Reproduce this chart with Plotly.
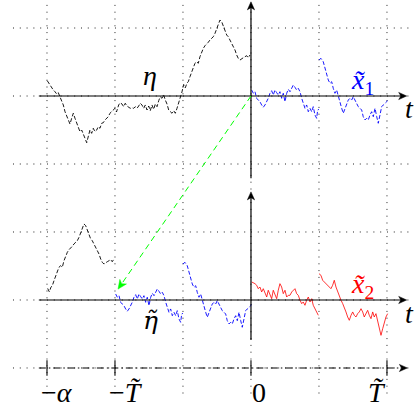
import plotly.graph_objects as go

# ---------------- data (grid units) ----------------
# eta: path on [-3, 0] (top panel, value relative to the upper t-axis)
eta_t = [-2.996, -2.966, -2.931, -2.907, -2.882, -2.857, -2.834, -2.809, -2.784, -2.760,
         -2.735, -2.710, -2.687, -2.662, -2.637, -2.613, -2.588, -2.563, -2.540, -2.515,
         -2.490, -2.466, -2.441, -2.416, -2.393, -2.368, -2.343, -2.319, -2.294, -2.269,
         -2.246, -2.221, -2.196, -2.172, -2.147, -2.122, -2.099, -2.074, -2.049, -2.025,
         -2.000, -1.978, -1.946, -1.922, -1.897, -1.872, -1.849, -1.824, -1.799, -1.775,
         -1.750, -1.725, -1.701, -1.676, -1.651, -1.628, -1.603, -1.578, -1.554, -1.529,
         -1.504, -1.481, -1.456, -1.431, -1.407, -1.382, -1.357, -1.334, -1.309, -1.284,
         -1.260, -1.235, -1.210, -1.187, -1.162, -1.137, -1.113, -1.088, -1.063, -1.040,
         -1.015, -0.990, -0.966, -0.941, -0.922, -0.897, -0.872, -0.849, -0.824, -0.799,
         -0.775, -0.750, -0.725, -0.701, -0.676, -0.651, -0.628, -0.603, -0.578, -0.554,
         -0.529, -0.504, -0.481, -0.456, -0.431, -0.407, -0.382, -0.357, -0.334, -0.309,
         -0.284, -0.260, -0.235, -0.210, -0.187, -0.162, -0.137, -0.113, -0.088, -0.063,
         -0.040, -0.015]
eta_v = [0.225, 0.176, 0.137, 0.088, 0.063, 0.029, 0.049, -0.010, -0.069, -0.132,
         -0.231, -0.304, -0.353, -0.412, -0.328, -0.254, -0.328, -0.401, -0.475, -0.525,
         -0.500, -0.574, -0.622, -0.687, -0.599, -0.500, -0.549, -0.475, -0.525, -0.500,
         -0.451, -0.475, -0.401, -0.393, -0.353, -0.328, -0.304, -0.254, -0.231, -0.206,
         -0.181, -0.235, -0.132, -0.099, -0.118, -0.157, -0.107, -0.147, -0.166, -0.181,
         -0.172, -0.181, -0.157, -0.181, -0.147, -0.107, -0.132, -0.181, -0.132, -0.206,
         -0.147, -0.216, -0.132, -0.196, -0.118, -0.157, -0.069, -0.010, -0.034, 0.015,
         -0.059, -0.118, -0.206, -0.231, -0.254, -0.216, -0.254, -0.181, -0.107, -0.034,
         0.060, 0.170, 0.120, 0.190, 0.210, 0.284, 0.357, 0.431, 0.481, 0.504,
         0.481, 0.578, 0.651, 0.701, 0.740, 0.760, 0.790, 0.824, 0.849, 0.872,
         0.922, 0.996, 1.044, 1.118, 1.093, 1.019, 0.946, 0.897, 0.872, 0.824,
         0.775, 0.725, 0.676, 0.603, 0.554, 0.529, 0.554, 0.563, 0.578, 0.593,
         0.563, 0.603]

# x~1 on [0, 1) and [1, 2]
x1a_t = [0.010, 0.034, 0.059, 0.084, 0.107, 0.132, 0.157, 0.181, 0.206, 0.231,
         0.254, 0.279, 0.304, 0.328, 0.353, 0.378, 0.401, 0.426, 0.451, 0.475,
         0.500, 0.525, 0.549, 0.574, 0.599, 0.622, 0.647, 0.672, 0.696, 0.721,
         0.746, 0.769, 0.794, 0.819, 0.843, 0.868, 0.893, 0.916, 0.941, 0.966,
         0.981, 1.000]
x1a_v = [0.088, 0.040, 0.063, -0.034, -0.059, -0.084, -0.132, -0.166, -0.132, -0.084,
         -0.034, 0.040, 0.078, 0.015, 0.088, 0.049, 0.015, 0.063, -0.034, 0.040,
         -0.084, 0.040, 0.099, 0.063, 0.128, 0.162, 0.128, 0.088, 0.113, 0.063,
         -0.034, -0.107, -0.181, -0.132, -0.231, -0.181, -0.231, -0.157, -0.279, -0.328,
         -0.206, -0.196]
x1b_t = [1.000, 1.029, 1.063, 1.088, 1.113, 1.137, 1.162, 1.187, 1.210, 1.235,
         1.260, 1.284, 1.309, 1.334, 1.357, 1.382, 1.407, 1.431, 1.456, 1.481,
         1.504, 1.529, 1.554, 1.578, 1.603, 1.628, 1.651, 1.676, 1.701, 1.725,
         1.750, 1.775, 1.799, 1.824, 1.849, 1.872, 1.897, 1.922, 1.946, 1.971,
         2.010]
x1b_v = [0.529, 0.554, 0.504, 0.407, 0.334, 0.235, 0.187, 0.210, 0.113, 0.040,
         0.088, -0.010, -0.107, -0.181, -0.254, -0.181, -0.107, -0.059, -0.034, -0.059,
         -0.010, -0.059, -0.132, -0.157, -0.181, -0.206, -0.304, -0.353, -0.328, -0.353,
         -0.279, -0.231, -0.304, -0.181, -0.304, -0.401, -0.279, -0.157, -0.132, -0.107,
         -0.069]

# x~2 on [0, 1) and [1, 2]
x2a_t = [0.010, 0.034, 0.059, 0.084, 0.107, 0.132, 0.157, 0.181, 0.206, 0.231,
         0.254, 0.279, 0.304, 0.328, 0.353, 0.378, 0.401, 0.426, 0.451, 0.475,
         0.500, 0.525, 0.549, 0.574, 0.599, 0.622, 0.647, 0.672, 0.696, 0.721,
         0.746, 0.769, 0.794, 0.819, 0.843, 0.868, 0.893, 0.916, 0.941, 0.966,
         0.990]
x2a_v = [0.265, 0.254, 0.240, 0.216, 0.166, 0.191, 0.118, 0.166, 0.093, 0.044,
         0.143, 0.093, 0.019, 0.143, 0.069, 0.019, 0.143, 0.240, 0.191, 0.093,
         0.143, 0.044, 0.069, 0.069, 0.118, 0.143, 0.166, 0.093, 0.069, -0.004,
         -0.054, -0.029, -0.078, -0.004, 0.044, -0.029, 0.019, -0.078, -0.128, -0.176,
         -0.225]
x2b_t = [1.000, 1.029, 1.054, 1.078, 1.103, 1.128, 1.151, 1.176, 1.201, 1.225,
         1.250, 1.275, 1.299, 1.324, 1.349, 1.372, 1.397, 1.422, 1.446, 1.471,
         1.496, 1.519, 1.544, 1.569, 1.593, 1.618, 1.643, 1.666, 1.691, 1.716,
         1.740, 1.765, 1.790, 1.813, 1.838, 1.863, 1.887, 1.912, 1.937, 1.960,
         1.985, 2.010]
x2b_v = [0.387, 0.363, 0.290, 0.265, 0.240, 0.216, 0.191, 0.166, 0.216, 0.290,
         0.191, 0.118, 0.069, -0.004, -0.054, -0.103, -0.176, -0.250, -0.299, -0.225,
         -0.176, -0.225, -0.250, -0.201, -0.176, -0.128, -0.176, -0.250, -0.201, -0.152,
         -0.225, -0.275, -0.176, -0.250, -0.201, -0.299, -0.397, -0.520, -0.422, -0.324,
         -0.250, -0.201]

tick_pos = [-3, -2, 0, 2]
tick_text = ["\u2212<i>\u03b1</i>", "\u2212<i>T\u0303</i>", "0", "<i>T\u0303</i>"]
grid_x = [-3, -2, -1, 0, 1, 2]
grid_y = [-1, 0, 1, 2, 3, 4]

# ---------------- geometry / style ----------------
TOP = 3.0          # level of upper t-axis
PX = 68.0          # pixels per unit
FONT = "Liberation Serif"
FS = 28

fig = go.Figure()
shapes = []
annotations = []

def seg(x0, y0, x1, y1, color="black", width=1.2, dash="solid"):
    shapes.append(dict(type="line", xref="x", yref="y", x0=x0, y0=y0, x1=x1, y1=y1,
                       line=dict(color=color, width=width, dash=dash), layer="above"))

def head(tx, ty, dx, dy, color="black", L=8.0, W=3.6, notch=2.2):
    n = (dx * dx + dy * dy) ** 0.5
    dx, dy = dx / n, dy / n
    nx, ny = -dy, dx
    l, w, c = L / PX, W / PX, (L - notch) / PX
    pts = [(tx, ty),
           (tx - l * dx + w * nx, ty - l * dy + w * ny),
           (tx - c * dx, ty - c * dy),
           (tx - l * dx - w * nx, ty - l * dy - w * ny)]
    path = "M " + " L ".join(f"{x:.4f},{y:.4f}" for x, y in pts) + " Z"
    shapes.append(dict(type="path", xref="x", yref="y", path=path,
                       fillcolor=color, line=dict(color=color, width=0.5), layer="above"))

# dotted grid
gx0, gx1, gy0, gy1 = -3.5, 2.34, -1.45, 4.34
for gx in grid_x:
    shapes.append(dict(type="line", xref="x", yref="y", x0=gx, x1=gx, y0=gy1, y1=gy0,
                       line=dict(color="#222", width=1, dash="1px,5.8px"), layer="below"))
for gy in grid_y:
    shapes.append(dict(type="line", xref="x", yref="y", x0=gx0, x1=gx1, y0=gy, y1=gy,
                       line=dict(color="#222", width=1, dash="1px,5.8px"), layer="below"))

# axes
xa0, xa1 = -3.12, 2.29
for base in (TOP, 0.0):
    seg(xa0, base, xa1 - 0.06, base)
    head(xa1, base, 1, 0)
seg(0, TOP - 1.21, 0, TOP + 1.32)
head(0, TOP + 1.385, 0, 1)
seg(0, -0.59, 0, 1.53)
head(0, 1.59, 0, 1)
# dash-dot time axis
seg(xa0, -1, xa1 - 0.06, -1, width=1.1, dash="7px,3px,1.5px,3px")
head(xa1 + 0.01, -1, 1, 0)
for tp in tick_pos:
    seg(tp, -1.115, tp, -0.885, width=1.1)

# curves
def add(xs, ys, color, dash, width=0.9):
    fig.add_trace(go.Scatter(x=xs, y=ys, mode="lines",
                             line=dict(color=color, width=width, dash=dash),
                             hoverinfo="skip"))

# upper panel
add(eta_t, [TOP + v for v in eta_v], "black", "4px,2px")
add(x1a_t + [None] + x1b_t, [TOP + v for v in x1a_v] + [None] + [TOP + v for v in x1b_v],
    "#0000ff", "4px,2px")

# lower panel: last unit of eta shifted to [-3,-2], x~1 shifted to [-2,0]
tail = [(t, v) for t, v in zip(eta_t, eta_v) if t >= -0.995]
add([t - 2 for t, _ in tail], [v for _, v in tail], "black", "4px,2px")
add([t - 2 for t in x1a_t] + [None] + [t - 2 for t in x1b_t],
    x1a_v + [None] + x1b_v, "#0000ff", "4px,2px")
add(x2a_t + [None] + x2b_t, x2a_v + [None] + x2b_v, "#ff0000", "solid", width=0.8)

# green dashed arrow
gtx, gty = -1.955, 0.16
dxg, dyg = gtx - 0, gty - TOP
ng = (dxg ** 2 + dyg ** 2) ** 0.5
seg(0, TOP, gtx - dxg / ng * 6 / PX, gty - dyg / ng * 6 / PX, color="#00ff00", width=1.0,
    dash="6px,4px")
head(gtx, gty, dxg, dyg, color="#00ff00", L=9, W=4, notch=2.5)

# labels
def label(x, y, text, color="black", size=FS, xanchor="center", family=FONT):
    annotations.append(dict(x=x, y=y, xref="x", yref="y", text=text, showarrow=False,
                            xanchor=xanchor, yanchor="middle",
                            font=dict(family=family, size=size, color=color)))

for tp, tt, dxl in zip(tick_pos, tick_text, [0.14, 0.16, 0.125, -0.15]):
    label(tp + dxl, -1.36, tt)
label(2.324, TOP - 0.19, "<i>t</i>")
label(2.324, -0.2, "<i>t</i>")
label(-1.49, TOP + 0.30, "<i>\u03b7</i>")
label(-1.48, -0.30, "<i>\u03b7\u0303</i>", size=25, family="DejaVu Serif")
label(1.64, TOP + 0.21, "<i>x\u0303</i><sub>1</sub>", color="#0000ff")
label(1.64, 0.21, "<i>x\u0303</i><sub>2</sub>", color="#ff0000")

fig.update_layout(
    width=419, height=410, margin=dict(l=0, r=0, t=0, b=0),
    paper_bgcolor="white", plot_bgcolor="white", showlegend=False,
    xaxis=dict(range=[-3.691, 2.471], visible=False, fixedrange=True),
    yaxis=dict(range=[-1.618, 4.412], visible=False, fixedrange=True),
    shapes=shapes, annotations=annotations,
)
fig.write_html("out.html", config={"displayModeBar": False},
               post_script="document.body.style.margin='0';document.body.style.overflow='hidden';")
